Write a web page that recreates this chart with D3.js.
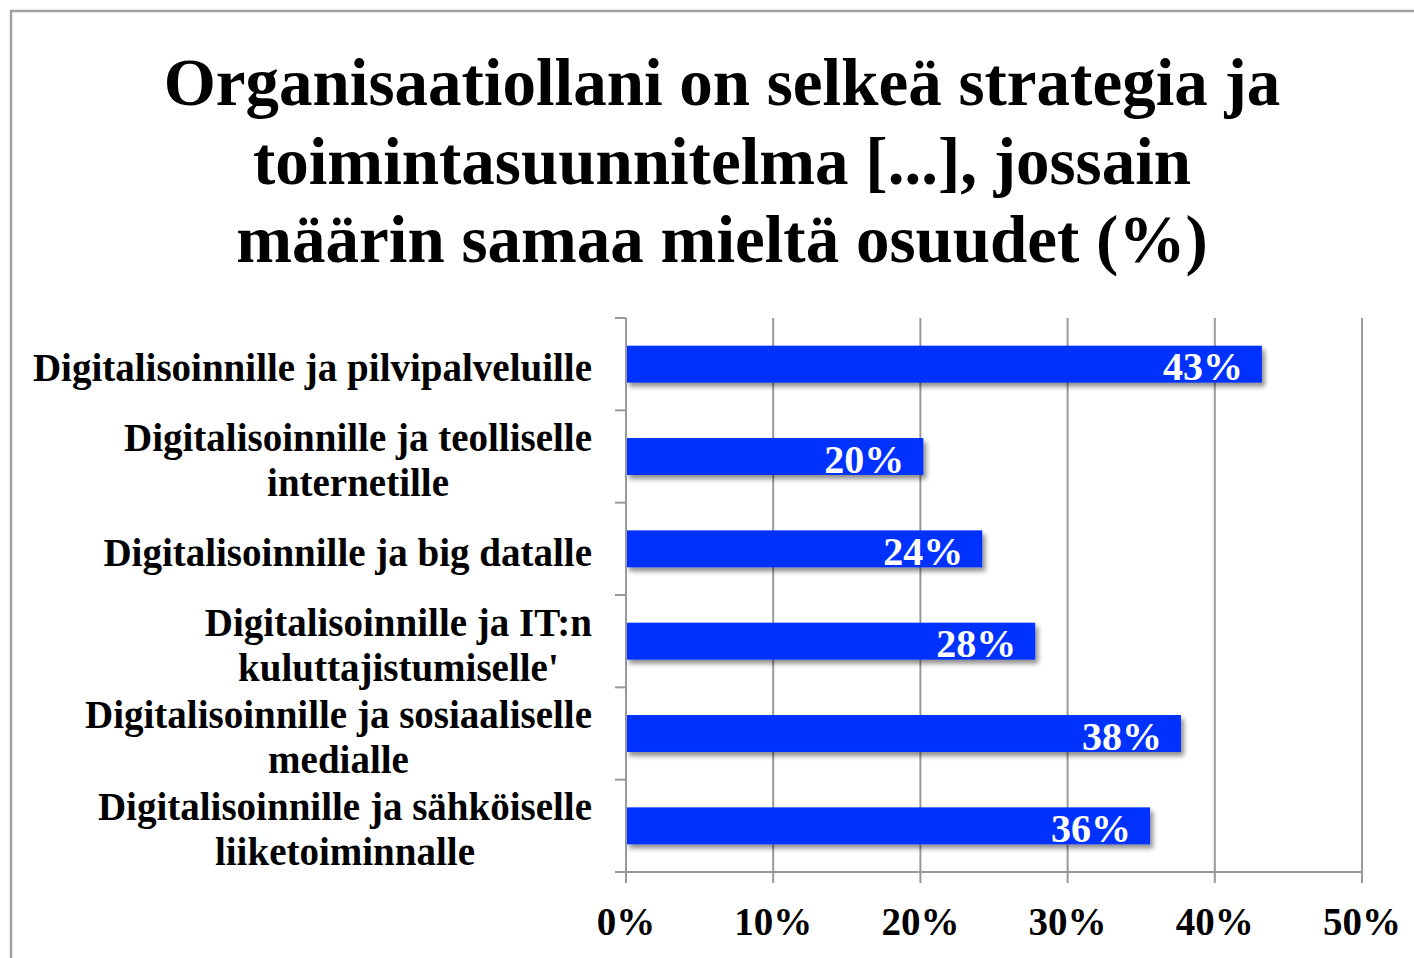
<!DOCTYPE html>
<html>
<head>
<meta charset="utf-8">
<script src="https://cdn.jsdelivr.net/npm/d3@7"></script>
<style>
  body { margin: 0; background: #fff; }
  svg text { font-family: "Liberation Serif", "Times New Roman", serif; font-weight: bold; }
</style>
</head>
<body>
<div class="board"></div>
<script>
// chart data
var categories = [
  ['Digitalisoinnille ja pilvipalveluille'],
  ['Digitalisoinnille ja teolliselle', 'internetille'],
  ['Digitalisoinnille ja big datalle'],
  ['Digitalisoinnille ja IT:n', "kuluttajistumiselle'"],
  ['Digitalisoinnille ja sosiaaliselle', 'medialle'],
  ['Digitalisoinnille ja sähköiselle', 'liiketoiminnalle']
];
var values = [43.2, 20.2, 24.2, 27.8, 37.7, 35.6];
var valueLabels = ['43%', '20%', '24%', '28%', '38%', '36%'];
var xTicks = [0, 10, 20, 30, 40, 50];
var titleLines = [
  'Organisaatiollani on selkeä strategia ja',
  'toimintasuunnitelma [...], jossain',
  'määrin samaa mieltä osuudet (%)'
];

var width = 1414;
var height = 958;
var plot = {left: 626, right: 1362, top: 318, bottom: 872};

var svg = d3.select('.board').append('svg')
  .attr('width', width)
  .attr('height', height);

var defs = svg.append('defs');
var shadow = defs.append('filter').attr('id', 'shadow')
  .attr('x', '-5%').attr('y', '-20%').attr('width', '115%').attr('height', '160%');
shadow.append('feGaussianBlur').attr('in', 'SourceAlpha').attr('stdDeviation', 2.5);
shadow.append('feOffset').attr('dx', 3).attr('dy', 4).attr('result', 'blur');
shadow.append('feComponentTransfer').append('feFuncA').attr('type', 'linear').attr('slope', 0.45);
var merge = shadow.append('feMerge');
merge.append('feMergeNode');
merge.append('feMergeNode').attr('in', 'SourceGraphic');

// outer frame (runs off the right and bottom edges)
svg.append('path')
  .attr('d', 'M11,' + height + 'V11H' + width)
  .attr('fill', 'none')
  .attr('stroke', '#a0a0a0')
  .attr('stroke-width', 2.5);

// title
svg.append('g').selectAll('text').data(titleLines)
  .enter().append('text')
  .attr('x', 722)
  .attr('y', function(d, i) { return 105 + i * 78.5; })
  .attr('text-anchor', 'middle')
  .attr('font-size', 67)
  .attr('fill', '#000')
  .text(function(d) { return d; });

var x = d3.scaleLinear().domain([0, 50]).range([plot.left, plot.right]);
var y = d3.scaleBand().domain(d3.range(categories.length))
  .range([plot.top, plot.bottom]).paddingInner(0.6).paddingOuter(0.3);
var yOuter = d3.scaleBand().domain(d3.range(categories.length))
  .range([plot.top, plot.bottom]);

// vertical gridlines
svg.append('g').selectAll('line').data(xTicks.slice(1))
  .enter().append('line')
  .attr('x1', function(d) { return x(d); })
  .attr('x2', function(d) { return x(d); })
  .attr('y1', plot.top)
  .attr('y2', plot.bottom)
  .attr('stroke', '#999')
  .attr('stroke-width', 2);

// bars
svg.append('g').selectAll('rect').data(values)
  .enter().append('rect')
  .attr('x', x(0))
  .attr('y', function(d, i) { return y(i); })
  .attr('width', function(d) { return x(d) - x(0); })
  .attr('height', y.bandwidth())
  .attr('fill', '#0433ff')
  .attr('filter', 'url(#shadow)');

// value labels
svg.append('g').selectAll('text').data(values)
  .enter().append('text')
  .attr('x', function(d) { return x(d) - 19; })
  .attr('y', function(d, i) { return y(i) + y.bandwidth() / 2 + 16; })
  .attr('text-anchor', 'end')
  .attr('font-size', 40)
  .attr('fill', '#fff')
  .text(function(d, i) { return valueLabels[i]; });

// y axis line + category ticks
var axisColor = '#999';
svg.append('line')
  .attr('x1', plot.left).attr('x2', plot.left)
  .attr('y1', plot.top).attr('y2', plot.bottom + 11)
  .attr('stroke', axisColor).attr('stroke-width', 2);
svg.append('g').selectAll('line').data(d3.range(categories.length + 1))
  .enter().append('line')
  .attr('x1', plot.left - 11).attr('x2', plot.left)
  .attr('y1', function(d) { return plot.top + d * yOuter.step(); })
  .attr('y2', function(d) { return plot.top + d * yOuter.step(); })
  .attr('stroke', axisColor).attr('stroke-width', 2);

// x axis line + ticks
svg.append('line')
  .attr('x1', plot.left - 11).attr('x2', plot.right)
  .attr('y1', plot.bottom).attr('y2', plot.bottom)
  .attr('stroke', axisColor).attr('stroke-width', 2);
svg.append('g').selectAll('line').data(xTicks)
  .enter().append('line')
  .attr('x1', function(d) { return x(d); })
  .attr('x2', function(d) { return x(d); })
  .attr('y1', plot.bottom).attr('y2', plot.bottom + 11)
  .attr('stroke', axisColor).attr('stroke-width', 2);

svg.append('g').selectAll('text').data(xTicks)
  .enter().append('text')
  .attr('x', function(d) { return x(d); })
  .attr('y', 935)
  .attr('text-anchor', 'middle')
  .attr('font-size', 39)
  .text(function(d) { return d + '%'; });

// category labels: block right-aligned, lines centered within block
var labelRight = 592;
var lineGap = 45;
var catGroup = svg.append('g');
categories.forEach(function(lines, i) {
  var g = catGroup.append('g');
  var cy = yOuter(i) + yOuter.bandwidth() / 2 + 4;
  var texts = g.selectAll('text').data(lines)
    .enter().append('text')
    .attr('font-size', 39)
    .attr('text-anchor', 'middle')
    .attr('y', function(d, j) {
      return cy + 13 + (j - (lines.length - 1) / 2) * lineGap;
    })
    .text(function(d) { return d; });
  var maxW = 0;
  texts.each(function() { maxW = Math.max(maxW, this.getComputedTextLength()); });
  texts.attr('x', labelRight - maxW / 2);
});
</script>
</body>
</html>
